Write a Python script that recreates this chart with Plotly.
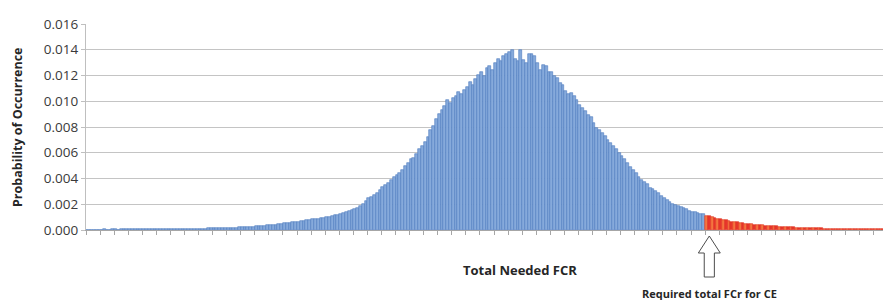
import plotly.graph_objects as go

# Probability of occurrence for each bin of "Total Needed FCR"
probabilities = [
    0.00003, 0.00002, 0.00003, 0.00003, 0.00002, 0.00003, 0.00004, 0.00003, 0.00003, 0.00004,
    0.00004, 0.00003, 0.00004, 0.00004, 0.00005, 0.00004, 0.00004, 0.00005, 0.00005, 0.00004,
    0.00005, 0.00005, 0.00006, 0.00005, 0.00006, 0.00006, 0.00005, 0.00006, 0.00007, 0.00006,
    0.00007, 0.00007, 0.00008, 0.00007, 0.00008, 0.00009, 0.00008, 0.00009, 0.00010, 0.00009,
    0.00010, 0.00011, 0.00011, 0.00012, 0.00012, 0.00013, 0.00013, 0.00014, 0.00015, 0.00015,
    0.00016, 0.00017, 0.00018, 0.00018, 0.00020, 0.00021, 0.00022, 0.00023, 0.00025, 0.00026,
    0.00028, 0.00029, 0.00031, 0.00033, 0.00035, 0.00037, 0.00039, 0.00042, 0.00045, 0.00048,
    0.00052, 0.00054, 0.00057, 0.00060, 0.00063, 0.00066, 0.00070, 0.00073, 0.00076, 0.00080,
    0.00083, 0.00086, 0.00088, 0.00093, 0.00096, 0.00099, 0.00104, 0.00110, 0.00115, 0.00120,
    0.00125, 0.00131, 0.00140, 0.00150, 0.00158, 0.00165, 0.00172, 0.00186, 0.00205, 0.00222,
    0.00245, 0.00258, 0.00272, 0.00290, 0.00310, 0.00335, 0.00352, 0.00368, 0.00392, 0.00408,
    0.00425, 0.00440, 0.00468, 0.00498, 0.00520, 0.00548, 0.00560, 0.00590, 0.00630, 0.00655,
    0.00680, 0.00720, 0.00775, 0.00810, 0.00860, 0.00900, 0.00935, 0.00960, 0.01010, 0.00985,
    0.01025, 0.01040, 0.01070, 0.01055, 0.01090, 0.01110, 0.01150, 0.01130, 0.01170, 0.01205,
    0.01230, 0.01200, 0.01260, 0.01275, 0.01240, 0.01300, 0.01330, 0.01310, 0.01350, 0.01370,
    0.01385, 0.01395, 0.01330, 0.01310, 0.01400, 0.01320, 0.01300, 0.01370, 0.01365, 0.01350,
    0.01300, 0.01240, 0.01285, 0.01275, 0.01225, 0.01230, 0.01200, 0.01180, 0.01145, 0.01130,
    0.01080, 0.01060, 0.01065, 0.01040, 0.01010, 0.00970, 0.00950, 0.00925, 0.00895, 0.00880,
    0.00830, 0.00795, 0.00780, 0.00750, 0.00730, 0.00700, 0.00675, 0.00650, 0.00630, 0.00600,
    0.00575, 0.00550, 0.00520, 0.00490, 0.00465, 0.00440, 0.00410, 0.00385, 0.00370, 0.00355,
    0.00330, 0.00318, 0.00300, 0.00285, 0.00265, 0.00250, 0.00235, 0.00215, 0.00205, 0.00195,
    0.00188, 0.00180, 0.00170, 0.00160, 0.00150, 0.00142, 0.00138, 0.00132, 0.00128, 0.00125,
    0.00110, 0.00105, 0.00098, 0.00092, 0.00088, 0.00082, 0.00078, 0.00075, 0.00070, 0.00066,
    0.00062, 0.00060, 0.00056, 0.00052, 0.00050, 0.00047, 0.00045, 0.00042, 0.00040, 0.00038,
    0.00036, 0.00034, 0.00032, 0.00031, 0.00029, 0.00028, 0.00026, 0.00025, 0.00023, 0.00022,
    0.00021, 0.00020, 0.00019, 0.00018, 0.00017, 0.00016, 0.00015, 0.00015, 0.00014, 0.00013,
    0.00013, 0.00012, 0.00011, 0.00011, 0.00010, 0.00010, 0.00009, 0.00009, 0.00008, 0.00008,
    0.00008, 0.00007, 0.00007, 0.00007, 0.00006, 0.00006, 0.00006, 0.00006, 0.00005, 0.00005,
    0.00005, 0.00005, 0.00004, 0.00004, 0.00004,
]
bins = list(range(len(probabilities)))
required_bin = 220          # first bin beyond the required total FCr (drawn red)
bins_per_tick = 5

y_ticks = [0.000, 0.002, 0.004, 0.006, 0.008, 0.010, 0.012, 0.014, 0.016]
y_tick_labels = ["0.000", "0.002", "0.004", "0.006", "0.008", "0.010", "0.012", "0.014", "0.016"]

x_title = "Total Needed FCR"
y_title = "Probability of Occurrence"
arrow_label = "Required total FCr for CE"

BLUE = "#86aadb"
BLUE_EDGE = "#4d7bc0"
REDS = ["#f4753f", "#e8362b"]

colors = [BLUE if b < required_bin else REDS[b % 2] for b in bins]
edges = [BLUE_EDGE if b < required_bin else "#e0301f" for b in bins]

fig = go.Figure(go.Bar(
    x=bins, y=probabilities,
    marker=dict(color=colors, line=dict(color=edges, width=0.6)),
    hoverinfo="skip",
))

FONT = "'Open Sans', Lato, sans-serif"

# the page body adds an 8px offset; the figure is sized so the plot area sits at
# x 86..888 and y 24..230 of the window
fig.update_layout(
    width=883, height=292,
    margin=dict(l=78, r=3, t=16, b=70),
    plot_bgcolor="white", paper_bgcolor="white",
    bargap=0, showlegend=False,
    font=dict(family=FONT, color="#404040"),
)
fig.update_xaxes(
    range=[-0.5, len(bins) - 0.5],
    tickmode="linear", tick0=-0.5, dtick=bins_per_tick,
    showticklabels=False, ticks="outside", ticklen=4, tickcolor="#a6a6a6",
    showgrid=False, zeroline=False,
    showline=True, linecolor="#a6a6a6", linewidth=1,
)
fig.update_yaxes(
    range=[0, 0.016],
    tickmode="array", tickvals=y_ticks, ticktext=y_tick_labels,
    tickfont=dict(size=13.5, color="#3a3a3a", family=FONT),
    ticks="outside", ticklen=4, tickcolor="#bfbfbf",
    showgrid=True, gridcolor="#c4c4c4", gridwidth=1.3,
    zeroline=False, showline=True, linecolor="#bfbfbf", linewidth=1,
)

plot_top, plot_bottom, plot_left, plot_w = 24, 230, 86, 802
plot_h = plot_bottom - plot_top

def py(window_y):
    return (plot_bottom - window_y) / plot_h

def px(window_x):
    return (window_x - plot_left) / plot_w

fig.add_annotation(
    text="<b>" + y_title + "</b>", textangle=-90,
    xref="paper", yref="paper", x=px(17), y=py(128),
    xanchor="center", yanchor="middle", showarrow=False,
    font=dict(size=12.5, color="#262626", family=FONT),
)
fig.add_annotation(
    text="<b>" + x_title + "</b>",
    xref="paper", yref="paper", x=px(520), y=py(270),
    xanchor="center", yanchor="middle", showarrow=False,
    font=dict(size=13, color="#262626", family=FONT),
)

# hollow block arrow pointing to the required bin
cx = required_bin + 1
hw_head, hw_shaft = 3.9, 1.8
tip, head_base, tail = py(236), py(253), py(277)
path = (f"M {cx},{tip} L {cx + hw_head},{head_base} L {cx + hw_shaft},{head_base} "
        f"L {cx + hw_shaft},{tail} L {cx - hw_shaft},{tail} L {cx - hw_shaft},{head_base} "
        f"L {cx - hw_head},{head_base} Z")
fig.add_shape(type="path", path=path, xref="x", yref="paper",
              line=dict(color="#4d4d4d", width=1), fillcolor="white")

fig.add_annotation(
    text="<b>" + arrow_label + "</b>",
    xref="x", yref="paper", x=cx, y=py(284),
    xanchor="center", yanchor="top", showarrow=False,
    font=dict(size=11, color="#262626", family=FONT),
)

fig.write_html("out.html")
